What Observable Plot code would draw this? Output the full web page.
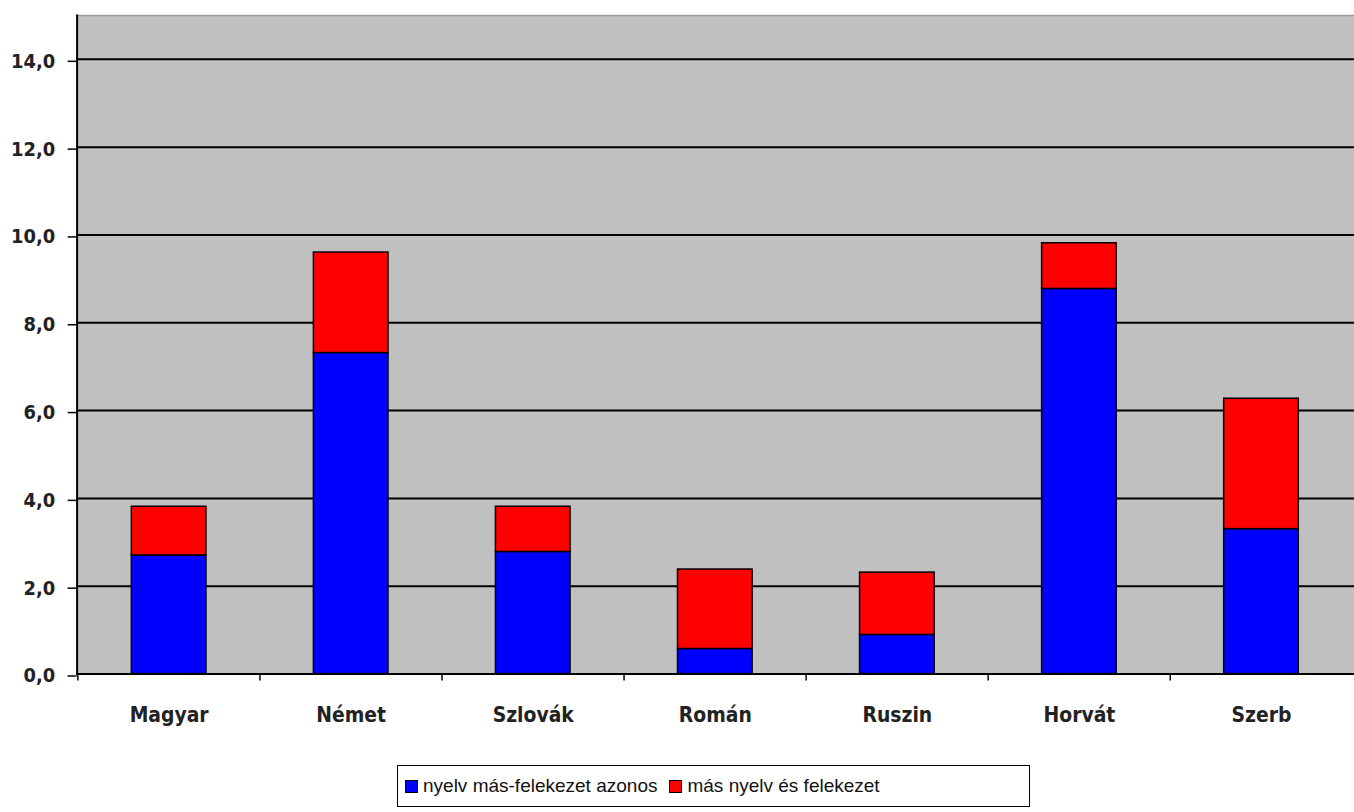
<!DOCTYPE html>
<html>
<head>
<meta charset="utf-8">
<script src="https://cdn.jsdelivr.net/npm/d3@7"></script>
<script src="https://cdn.jsdelivr.net/npm/@observablehq/plot@0.6"></script>
<style>
  html, body { margin: 0; padding: 0; background: #fff; overflow: hidden; }
  #chart svg { display: block; overflow: visible; }
  .legend {
    margin-left: 397px; margin-top: 29px; width: 633px; height: 42px;
    border: 1.5px solid #000; box-sizing: border-box;
    display: flex; align-items: center; padding-left: 7px;
    font-family: "Liberation Sans", Arial, sans-serif; font-size: 19px; color: #111;
  }
  .legend .sw { width: 11px; height: 11px; border: 1px solid #000; display: inline-block; margin-right: 5px; }
  .legend .item { display: flex; align-items: center; margin-right: 12px; }
</style>
</head>
<body>
<div id="chart"></div>
<script>
const categories = ["Magyar", "Német", "Szlovák", "Román", "Ruszin", "Horvát", "Szerb"];
const seriesNames = ["nyelv más-felekezet azonos", "más nyelv és felekezet"];
const sameValues = [2.70, 7.31, 2.78, 0.57, 0.89, 8.77, 3.30];   // blue part
const totalValues = [3.81, 9.60, 3.81, 2.38, 2.31, 9.81, 6.27];  // top of stack
const seriesColors = ["#0000ff", "#ff0000"];
const yTicks = [0, 2, 4, 6, 8, 10, 12, 14];

const data = [];
categories.forEach((c, i) => {
  data.push({cat: c, series: seriesNames[0], value: sameValues[i]});
  data.push({cat: c, series: seriesNames[1], value: +(totalValues[i] - sameValues[i]).toFixed(2)});
});

const W = 1361, mL = 77, mR = 0;
const step = (W - mL - mR) / categories.length;
const fmt = d => d.toFixed(1).replace(".", ",");
const font = "\"DejaVu Sans Condensed\", \"Liberation Sans\", Arial, sans-serif";

const chart = Plot.plot({
  width: W,
  height: 740,
  marginTop: 15,
  marginBottom: 63,
  marginLeft: mL,
  marginRight: mR,
  style: {fontFamily: font, background: "white"},
  x: {domain: categories, paddingInner: 0.59, paddingOuter: 0.295, label: null},
  y: {domain: [0, 15], label: null},
  color: {domain: seriesNames, range: seriesColors},
  marks: [
    Plot.frame({fill: "#c0c0c0", stroke: null}),
    Plot.frame({anchor: "top", stroke: "#9a9a9a", strokeWidth: 1.5}),
    Plot.ruleY(yTicks, {stroke: "#000", strokeWidth: 2}),
    Plot.barY(data, {x: "cat", y: "value", fill: "series", stroke: "#000", strokeWidth: 1.5}),
    Plot.frame({anchor: "left", stroke: "#000", strokeWidth: 2}),
    Plot.axisY({ticks: yTicks, tickFormat: fmt, tickSize: 9, tickPadding: 13, dy: 2, fontSize: 20, fontWeight: "bold", fill: "#222", strokeWidth: 1.5}),
    Plot.axisX({tickSize: 7, text: null, dx: -step / 2, strokeWidth: 1.5, label: null}),
    Plot.axisX({tickSize: 0, tickPadding: 33, fontSize: 21, fontWeight: "bold", fill: "#222", label: null})
  ]
});
document.getElementById("chart").appendChild(chart);

const legend = document.createElement("div");
legend.className = "legend";
seriesNames.forEach((s, i) => {
  const item = document.createElement("span");
  item.className = "item";
  const sw = document.createElement("span");
  sw.className = "sw";
  sw.style.background = seriesColors[i];
  item.appendChild(sw);
  item.appendChild(document.createTextNode(s));
  legend.appendChild(item);
});
document.body.appendChild(legend);
</script>
</body>
</html>
